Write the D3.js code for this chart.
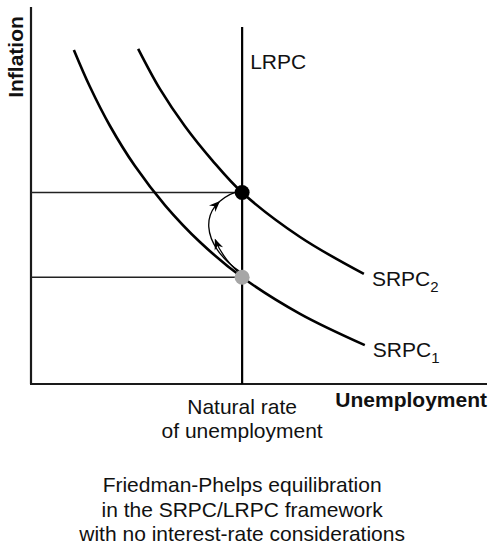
<!DOCTYPE html>
<html>
<head>
<meta charset="utf-8">
<script src="https://cdn.jsdelivr.net/npm/d3@7"></script>
<style>
  html, body { margin: 0; padding: 0; background: #fff; }
  svg { display: block; }
  text { font-family: "Liberation Sans", Arial, Helvetica, sans-serif; fill: #111; }
</style>
</head>
<body>
<svg id="chart" width="489" height="546"></svg>
<script>
// Unemployment (x) and inflation (y) in arbitrary chart units.
const naturalRate = 4.63;
const inflationLow = 2.83;   // expected inflation on SRPC1
const inflationHigh = 5.08;  // expected inflation on SRPC2

const srpc1U = [0.94, 1.29, 1.73, 2.28, 2.94, 3.71, 4.63, 5.90, 7.32];
const srpc1Pi = [8.86, 7.89, 6.85, 5.78, 4.74, 3.76, 2.83, 1.86, 1.03];

const srpc2U = [2.35, 2.83, 3.38, 3.97, 4.63, 5.90, 7.30];
const srpc2Pi = [8.89, 7.82, 6.83, 5.94, 5.08, 3.90, 2.92];

const lrpcTop = 9.47;

const curveLabels = ["SRPC", "SRPC"];
const curveSubs = ["1", "2"];
const axisTitles = ["Unemployment", "Inflation"];
const naturalLabel = ["Natural rate", "of unemployment"];
const captionLines = [
  "Friedman-Phelps equilibration",
  "in the SRPC/LRPC framework",
  "with no interest-rate considerations"
];

const svg = d3.select("#chart");
const x = d3.scaleLinear().domain([0, 10]).range([31, 487]);
const y = d3.scaleLinear().domain([0, 10]).range([384, 7]);

// Axes (plain lines, no ticks)
svg.append("line")
  .attr("x1", x(0)).attr("x2", x(0))
  .attr("y1", y(10)).attr("y2", y(0))
  .attr("stroke", "#1a1a1a").attr("stroke-width", 2.2);
svg.append("line")
  .attr("x1", x(0) - 1).attr("x2", x(10))
  .attr("y1", y(0)).attr("y2", y(0))
  .attr("stroke", "#1a1a1a").attr("stroke-width", 2.2);

// Guides from the vertical axis to the equilibrium points
[inflationHigh, inflationLow].forEach(v => {
  svg.append("line")
    .attr("x1", x(0)).attr("x2", x(naturalRate))
    .attr("y1", y(v)).attr("y2", y(v))
    .attr("stroke", "#222").attr("stroke-width", 1.5);
});

// Long-run Phillips curve
svg.append("line")
  .attr("x1", x(naturalRate)).attr("x2", x(naturalRate))
  .attr("y1", y(lrpcTop)).attr("y2", y(0))
  .attr("stroke", "#000").attr("stroke-width", 2.2);

// Short-run Phillips curves
const line = d3.line()
  .x(d => x(d[0])).y(d => y(d[1]))
  .curve(d3.curveCatmullRom.alpha(0.5));

const srpc1 = srpc1U.map((u, i) => [u, srpc1Pi[i]]);
const srpc2 = srpc2U.map((u, i) => [u, srpc2Pi[i]]);

[srpc1, srpc2].forEach(pts => {
  svg.append("path")
    .attr("d", line(pts))
    .attr("fill", "none")
    .attr("stroke", "#000")
    .attr("stroke-width", 2.6);
});

// Adjustment arrows (offsets in chart units from the equilibria)
const ax = naturalRate, lo = inflationLow, hi = inflationHigh;
const p = (du, dv, base) => [x(ax + du), y(base + dv)];
const arc2 = d3.path();
{
  const s = p(-0.05, 0.15, lo), c1 = p(-0.9, 0.86, lo), c2 = p(-1.0, 1.9, lo), e = p(-0.1, 0.03, hi);
  arc2.moveTo(...s);
  arc2.bezierCurveTo(...c1, ...c2, ...e);
}
const arc1 = d3.path();
{
  const s = p(-0.05, 0.10, lo), c = p(-0.44, 0.52, lo), e = p(-0.59, 1.0, lo);
  arc1.moveTo(...s);
  arc1.quadraticCurveTo(...c, ...e);
}
const arcPaths = [arc1.toString(), arc2.toString()];
const arrowAt = [1.0, 0.8];
const arrowG = svg.append("g");
arcPaths.forEach((d, i) => {
  const el = arrowG.append("path")
    .attr("d", d)
    .attr("fill", "none")
    .attr("stroke", "#000")
    .attr("stroke-width", 1.3);
  const node = el.node();
  const L = node.getTotalLength();
  const at = L * arrowAt[i];
  const pt = node.getPointAtLength(at);
  const pb = node.getPointAtLength(Math.max(0, at - 2));
  const ang = Math.atan2(pt.y - pb.y, pt.x - pb.x) * 180 / Math.PI;
  arrowG.append("path")
    .attr("d", "M1,0 L-10,-4.5 L-6.5,0 L-10,4.5 Z")
    .attr("fill", "#000")
    .attr("transform", `translate(${pt.x},${pt.y}) rotate(${ang})`);
});

// Equilibrium points
svg.append("circle")
  .attr("cx", x(naturalRate)).attr("cy", y(inflationHigh))
  .attr("r", 7.5).attr("fill", "#000");
svg.append("circle")
  .attr("cx", x(naturalRate)).attr("cy", y(inflationLow))
  .attr("r", 7.5).attr("fill", "#a6a6a6");

// Labels
const fs = 21;
svg.append("text")
  .attr("x", x(naturalRate) + 8).attr("y", 69)
  .attr("font-size", fs)
  .text("LRPC");

const curveEnds = [srpc1[srpc1.length - 1], srpc2[srpc2.length - 1]];
curveEnds.forEach((end, i) => {
  const t = svg.append("text")
    .attr("x", x(end[0]) + 8)
    .attr("y", y(end[1]) + 12)
    .attr("font-size", fs);
  t.append("tspan").text(curveLabels[i]);
  t.append("tspan").attr("dy", 6).attr("font-size", 15).text(curveSubs[i]);
});

svg.append("text")
  .attr("x", x(10)).attr("y", 407)
  .attr("text-anchor", "end")
  .attr("font-size", fs).attr("font-weight", "bold")
  .text(axisTitles[0]);

svg.append("text")
  .attr("transform", `translate(23,57) rotate(-90)`)
  .attr("text-anchor", "middle")
  .attr("font-size", fs).attr("font-weight", "bold")
  .text(axisTitles[1]);

naturalLabel.forEach((s, i) => {
  svg.append("text")
    .attr("x", x(naturalRate)).attr("y", 414 + i * 24)
    .attr("text-anchor", "middle")
    .attr("font-size", fs)
    .text(s);
});

captionLines.forEach((s, i) => {
  svg.append("text")
    .attr("x", x(naturalRate)).attr("y", 492 + i * 24.5)
    .attr("text-anchor", "middle")
    .attr("font-size", fs)
    .text(s);
});
</script>
</body>
</html>
